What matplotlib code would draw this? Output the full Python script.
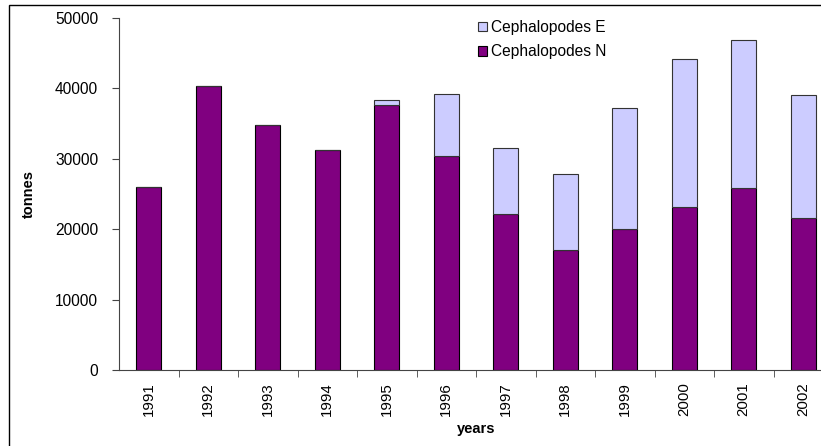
import numpy as np
import matplotlib
matplotlib.use("Agg")
import matplotlib.pyplot as plt
from matplotlib.patches import Rectangle, Patch

years = ["1991", "1992", "1993", "1994", "1995", "1996",
         "1997", "1998", "1999", "2000", "2001", "2002"]
ceph_n = [26000, 40400, 34800, 31300, 37600, 30400,
          22100, 17100, 20000, 23200, 25900, 21600]
ceph_total = [26000, 40400, 34800, 31300, 38400, 39200,
              31500, 27800, 37200, 44200, 46900, 39100]
ceph_e = [t - n for t, n in zip(ceph_total, ceph_n)]

plt.rcParams["font.family"] = ["Liberation Sans", "DejaVu Sans"]

W, H = 821, 446
fig = plt.figure(figsize=(W / 100, H / 100), dpi=100)
ax = fig.add_axes([119 / W, (H - 370) / H, (833 - 119) / W, (370 - 18) / H])

# outer chart border (cropped on the right and bottom)
fig.patches.append(Rectangle((9 / W, -0.1), 1.2, 1.1 - 5 / H, transform=fig.transFigure,
                             fill=False, edgecolor="black", linewidth=1.0))

x = np.arange(len(years))
width = 0.42
ax.bar(x, ceph_n, width, color="#800080", edgecolor="black", linewidth=0.8)
ax.bar(x, ceph_e, width, bottom=ceph_n, color="#CCCCFF", edgecolor="#333333", linewidth=0.8)

ax.set_xlim(-0.5, len(years) - 0.5)
ax.set_ylim(0, 50000)
ax.set_yticks(range(0, 50001, 10000))
ax.set_xticks(x)
ax.set_xticklabels(years, rotation=90, fontsize=10.8)
ax.set_xticks(x[:-1] + 0.5, minor=True)
ax.tick_params(axis="x", which="major", length=0, pad=9)
ax.tick_params(axis="x", which="minor", length=5, direction="out", color="#444444")
ax.tick_params(axis="y", length=5, direction="out", labelsize=11.2, pad=10, color="#444444")
for s in ["top", "right"]:
    ax.spines[s].set_visible(False)
for s in ["left", "bottom"]:
    ax.spines[s].set_color("#444444")

ax.set_ylabel("tonnes", fontsize=10.5, fontweight="bold", labelpad=14)
ax.set_xlabel("years", fontsize=10.5, fontweight="bold", labelpad=4)

handles = [Patch(facecolor="#CCCCFF", edgecolor="#333333", linewidth=0.8),
           Patch(facecolor="#800080", edgecolor="black", linewidth=0.8)]
fig.legend(handles, ["Cephalopodes E", "Cephalopodes N"], loc="upper left",
           bbox_to_anchor=(464 / W, 1 - 6 / H), frameon=False, fontsize=11.2,
           handlelength=0.55, handleheight=0.6, handletextpad=0.3, labelspacing=0.6)

fig.savefig("out.png", dpi=100)
